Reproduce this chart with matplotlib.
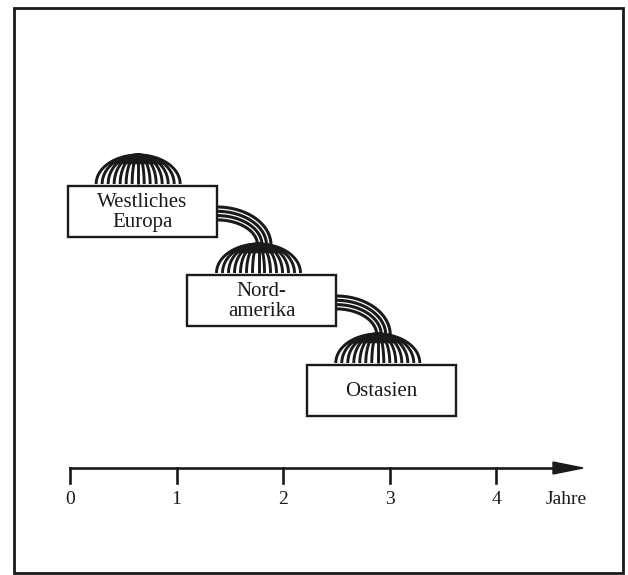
import numpy as np
import matplotlib
matplotlib.use("Agg")
import matplotlib.pyplot as plt
from matplotlib.patches import Rectangle

# timeline data (years)
regions = ["Westliches\nEuropa", "Nord-\namerika", "Ostasien"]
box_start = [-0.02, 1.10, 2.23]
box_end = [1.38, 2.50, 3.62]
dome_center = [0.64, 1.77, 2.89]
tick_years = [0, 1, 2, 3, 4]
tick_labels = ["0", "1", "2", "3", "4"]
axis_label = "Jahre"

# layout in pixels (vertical) / pixel-per-year (horizontal)
PPY = 106.5
X0 = 70
box_top = [186, 275, 365]
box_h = 51
ink = '#1a1a1a'

plt.rcParams['font.family'] = ['Liberation Serif', 'DejaVu Serif']

fig = plt.figure(figsize=(6.28, 5.75), dpi=100)
ax = fig.add_axes([0, 0, 1, 1])
ax.set_xlim(-X0 / PPY, (628 - X0) / PPY)
ax.set_ylim(575, 0)
ax.axis('off')

def yr(px):
    # pixel offset -> years
    return px / PPY

# outer frame
ax.add_patch(Rectangle((yr(14 - X0), 8), yr(623 - 14), 565, fill=False,
                       lw=2.0, ec=ink))

# boxes with text
for lab, x1, x2, top in zip(regions, box_start, box_end, box_top):
    ax.add_patch(Rectangle((x1, top), x2 - x1, box_h, fill=False, lw=1.7, ec=ink))
    ax.text((x1 + x2) / 2, top + box_h / 2 + 1, lab, ha='center', va='center',
            fontsize=15, linespacing=1.1, color=ink)

# domes (fountain) above each box
R = yr(42)
H = 29
s = np.linspace(0, np.pi / 2, 60)
for cx, top in zip(dome_center, box_top):
    base = top - 2
    for u in np.linspace(-1, 1, 15):
        xs = cx + R * u * np.sin(s)
        ys = base - H * np.cos(s)
        ax.plot(xs, ys, color=ink, lw=2.1, solid_capstyle='butt')
    # dark cap where the lines run together
    t = np.linspace(np.arcsin(0.68), np.pi - np.arcsin(0.68), 80)
    ax.fill(cx + R * np.cos(t), base - H * np.sin(t), color=ink, lw=0)

# connectors between box i and dome i+1
for i in range(len(regions) - 1):
    xr = box_end[i]
    cy = box_top[i + 1] - 30
    for k in range(4):
        y_start = box_top[i] + 21 + 4.3 * k
        ry = cy - y_start
        rx = yr(54 - 4.5 * k)
        ss = np.linspace(0, np.pi / 2, 60)
        xs = xr + rx * np.sin(ss)
        ys = cy - ry * np.cos(ss)
        ax.plot(xs, ys, color=ink, lw=2.2, solid_capstyle='butt')

# time axis
y_axis = 468
ax.plot([0, yr(555 - X0)], [y_axis, y_axis], color=ink, lw=1.9)
ax.fill([yr(553 - X0), yr(583 - X0), yr(553 - X0)],
        [y_axis - 6, y_axis, y_axis + 6], color=ink)
for t_, l_ in zip(tick_years, tick_labels):
    ax.plot([t_, t_], [y_axis, y_axis + 15], color=ink, lw=1.9)
    ax.text(t_, 499, l_, ha='center', va='center', fontsize=14, color=ink)
ax.text(yr(566 - X0), 499, axis_label, ha='center', va='center', fontsize=14,
        color=ink)

fig.savefig("out.png", dpi=100, facecolor='white')
